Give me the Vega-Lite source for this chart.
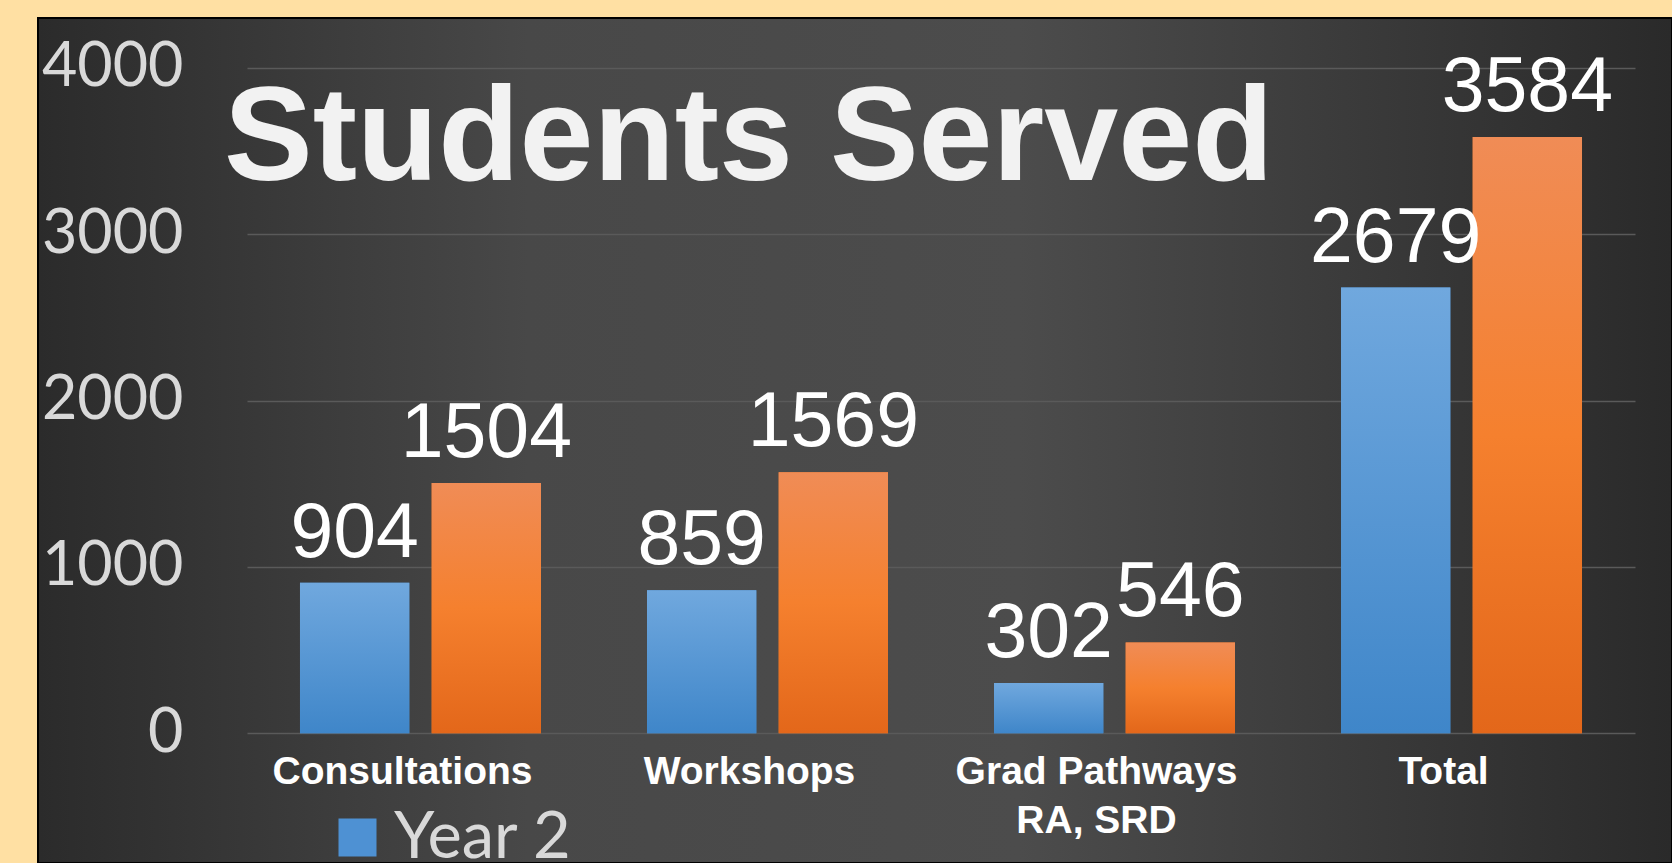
{
  "$schema": "https://vega.github.io/schema/vega-lite/v6.json",
  "width": 1634,
  "height": 845,
  "autosize": {"type": "none"},
  "padding": {"left": 38, "top": 18, "right": 0, "bottom": 0},
  "background": "#FFE0A3",
  "title": {
    "text": "Students Served",
    "anchor": "start",
    "frame": "group",
    "orient": "top",
    "offset": -130,
    "dx": 186,
    "dy": 165,
    "baseline": "alphabetic",
    "font": "Liberation Sans",
    "fontSize": 133,
    "fontWeight": "bold",
    "color": "#f2f2f2"
  },
  "data": {
    "values": [
      {"cat": "Consultations", "series": "Year 2", "v": 904},
      {"cat": "Consultations", "series": "Year 3", "v": 1504},
      {"cat": "Workshops", "series": "Year 2", "v": 859},
      {"cat": "Workshops", "series": "Year 3", "v": 1569},
      {"cat": "Grad Pathways RA, SRD", "series": "Year 2", "v": 302},
      {"cat": "Grad Pathways RA, SRD", "series": "Year 3", "v": 546},
      {"cat": "Total", "series": "Year 2", "v": 2679},
      {"cat": "Total", "series": "Year 3", "v": 3584}
    ]
  },
  "encoding": {
    "x": {
      "field": "cat",
      "type": "nominal",
      "sort": null,
      "scale": {"range": [209, 1597], "paddingInner": 0.3055, "paddingOuter": 0.1527},
      "axis": {
        "orient": "bottom",
        "offset": -129.7,
        "domain": false,
        "ticks": false,
        "grid": false,
        "title": null,
        "labelAngle": 0,
        "labelPadding": 19,
        "labelFont": "Liberation Sans",
        "labelFontSize": 39,
        "labelFontWeight": "bold",
        "labelColor": "#ffffff",
        "labelOffset": -18,
        "labelLineHeight": 49,
        "labelLimit": 600,
        "labelExpr": "datum.value == 'Grad Pathways RA, SRD' ? ['Grad Pathways', 'RA, SRD'] : datum.label"
      }
    },
    "xOffset": {
      "field": "series",
      "type": "nominal",
      "scale": {"domain": ["Year 2", "Year 3"], "paddingInner": 0.17, "paddingOuter": 0}
    },
    "y": {
      "field": "v",
      "type": "quantitative",
      "scale": {"domain": [0, 4000], "range": [715.3, 49.7], "nice": false, "zero": true},
      "axis": {
        "orient": "left",
        "offset": -209,
        "domain": false,
        "ticks": false,
        "title": null,
        "format": "d",
        "values": [0, 1000, 2000, 3000, 4000],
        "labelPadding": 64,
        "labelFont": "Lato",
        "labelFontSize": 61,
        "labelColor": "#d9d9d9",
        "labelBaseline": "middle",
        "grid": true,
        "gridColor": "#5a5a5a",
        "gridWidth": 1.5
      }
    }
  },
  "layer": [
    {
      "mark": {"type": "bar"},
      "encoding": {
        "color": {
          "field": "series",
          "type": "nominal",
          "scale": {"domain": ["Year 2", "Year 3"], "range": ["#4E91D3", "#F07A28"]},
          "legend": {
            "orient": "none",
            "legendX": 287,
            "legendY": 787,
            "direction": "vertical",
            "title": null,
            "symbolType": "square",
            "symbolSize": 1444,
            "symbolStrokeWidth": 0,
            "symbolOpacity": 1,
            "labelFont": "Lato",
            "labelFontSize": 65,
            "labelColor": "#d9d9d9",
            "labelOffset": 4,
            "labelLimit": 400,
            "padding": 0,
            "rowPadding": 10
          }
        }
      }
    },
    {
      "transform": [{"filter": "datum.series == 'Year 2'"}],
      "mark": {
        "type": "bar",
        "fill": {"gradient": "linear", "x1": 0, "y1": 0, "x2": 0, "y2": 1, "stops": [{"offset": 0, "color": "#70A8DE"}, {"offset": 1, "color": "#3F86C9"}]}
      }
    },
    {
      "transform": [{"filter": "datum.series == 'Year 3'"}],
      "mark": {
        "type": "bar",
        "fill": {"gradient": "linear", "x1": 0, "y1": 0, "x2": 0, "y2": 1, "stops": [{"offset": 0, "color": "#F08C56"}, {"offset": 0.5, "color": "#F5802E"}, {"offset": 1, "color": "#E3671A"}]}
      }
    },
    {
      "mark": {"type": "text", "baseline": "alphabetic", "align": "center", "dy": -26, "font": "Liberation Sans", "fontSize": 77, "fill": "#ffffff"},
      "encoding": {"text": {"field": "v", "type": "quantitative"}}
    }
  ],
  "config": {
    "view": {
      "fill": {"gradient": "linear", "x1": 0, "y1": 0, "x2": 1, "y2": 0, "stops": [{"offset": 0, "color": "#2b2b2b"}, {"offset": 0.3, "color": "#484848"}, {"offset": 0.6, "color": "#4c4c4c"}, {"offset": 1, "color": "#2a2a2a"}]},
      "stroke": "#000000",
      "strokeWidth": 2
    }
  }
}
